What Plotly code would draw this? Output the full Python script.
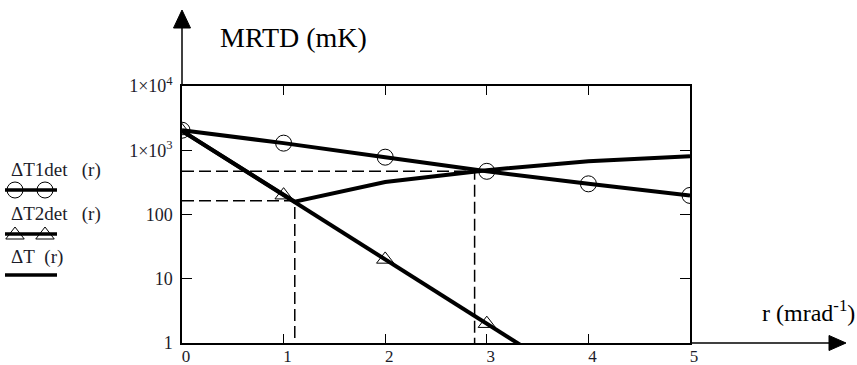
import plotly.graph_objects as go

# ---------------- data ----------------
r = [0, 1, 2, 3, 4, 5]
dT1det = [2050, 1290, 780, 470, 300, 198]          # circles
dT2det = [2000, 200, 20, 2, 0.2, 0.02]              # triangles
r_dT = [0, 1.11, 2, 3, 4, 5]
dT = [2000, 158, 320, 490, 675, 805]               # combined curve
cross_r = [1.11, 2.88]
cross_v = [163, 470]

x_tickvals = [0, 1, 2, 3, 4, 5]
x_ticktext = ["0", "1", "2", "3", "4", "5"]
y_tickvals = [1, 10, 100, 1000, 10000]
y_ticktext = ["1", "10", "100", "1×10<sup>3</sup>", "1×10<sup>4</sup>"]

legend_names = ["ΔT1det\u00a0\u00a0\u00a0(r)", "ΔT2det\u00a0\u00a0\u00a0(r)", "ΔT\u00a0\u00a0(r)"]

# ---------------- layout helpers ----------------
W, H = 857, 365
L, R, T, B = 182, 690, 86, 343


def PX(x):
    return x / W


def PY(y):
    return 1 - y / H


SERIF = "Liberation Serif"
TXT = "#1c1c2a"
LW = 4

fig = go.Figure()

# dashed guide lines
for cr, cv in zip(cross_r, cross_v):
    fig.add_trace(go.Scatter(x=[0, cr, cr], y=[cv, cv, 1], mode="lines",
                             line=dict(color="black", width=1.5, dash="12px,5px"),
                             showlegend=False, hoverinfo="skip"))

fig.add_trace(go.Scatter(x=r, y=dT1det, mode="lines+markers",
                         line=dict(color="black", width=LW),
                         marker=dict(symbol="circle-open", size=16, color="black", line=dict(width=1)),
                         showlegend=False))
fig.add_trace(go.Scatter(x=r, y=dT2det, mode="lines+markers",
                         line=dict(color="black", width=LW),
                         marker=dict(symbol="triangle-up-open", size=15, color="black", line=dict(width=1)),
                         showlegend=False))
fig.add_trace(go.Scatter(x=r_dT, y=dT, mode="lines",
                         line=dict(color="black", width=LW),
                         showlegend=False))

# legend keys on a pixel-coordinate helper axis
leg_line_y = [190, 234, 275]
leg_text_y = [170, 214, 257]
key_x = [5, 57]
mark_x = [15, 45]
symbols = ["circle-open", "triangle-up-open", None]
for i in range(3):
    fig.add_trace(go.Scatter(x=key_x, y=[leg_line_y[i]] * 2, mode="lines",
                             line=dict(color="black", width=3.5),
                             xaxis="x2", yaxis="y2", showlegend=False, hoverinfo="skip"))
    if symbols[i]:
        fig.add_trace(go.Scatter(x=mark_x, y=[leg_line_y[i] + (1 if i == 1 else 0)] * 2, mode="markers",
                                 marker=dict(symbol=symbols[i], size=16, color="black", line=dict(width=1)),
                                 xaxis="x2", yaxis="y2", showlegend=False, hoverinfo="skip",
                                 cliponaxis=False))

annotations = [
    dict(text="MRTD (mK)", x=PX(293), y=PY(37), xref="paper", yref="paper",
         showarrow=False, xanchor="center", yanchor="middle",
         font=dict(family=SERIF, size=28, color="black")),
    dict(text="r (mrad<sup>-1</sup>)", x=PX(857), y=PY(311), xref="paper", yref="paper",
         showarrow=False, xanchor="right", yanchor="middle",
         font=dict(family=SERIF, size=24, color="black")),
]
for i, name in enumerate(legend_names):
    annotations.append(dict(text=name, x=PX(9), y=PY(leg_text_y[i]), xref="paper", yref="paper",
                            showarrow=False, xanchor="left", yanchor="middle",
                            font=dict(family=SERIF, size=19, color=TXT)))

shapes = [
    dict(type="line", xref="paper", yref="paper", x0=PX(L), x1=PX(L), y0=PY(T), y1=PY(26),
         line=dict(color="black", width=1.5)),
    dict(type="line", xref="paper", yref="paper", x0=PX(R), x1=PX(832), y0=PY(B), y1=PY(B),
         line=dict(color="black", width=1.5)),
    dict(type="path", xref="paper", yref="paper",
         path=f"M {PX(182)} {PY(10)} L {PX(173.5)} {PY(28)} L {PX(190.5)} {PY(28)} Z",
         fillcolor="black", line=dict(color="black", width=1)),
    dict(type="path", xref="paper", yref="paper",
         path=f"M {PX(846)} {PY(343)} L {PX(829)} {PY(335.5)} L {PX(829)} {PY(350.5)} Z",
         fillcolor="black", line=dict(color="black", width=1)),
]

fig.update_layout(
    width=W, height=H, autosize=False,
    margin=dict(l=0, r=0, t=0, b=0),
    paper_bgcolor="white", plot_bgcolor="white",
    showlegend=False,
    font=dict(family=SERIF),
    annotations=annotations, shapes=shapes,
    xaxis=dict(domain=[PX(L), PX(R)], range=[0, 5], tickvals=x_tickvals, ticktext=x_ticktext,
               showline=True, linecolor="black", linewidth=1.5, mirror="ticks",
               ticks="inside", ticklen=9, tickwidth=1.3, tickcolor="black",
               showgrid=False, zeroline=False, automargin=False, ticklabelstandoff=-3,
               ticklabelshift=4,
               tickfont=dict(family=SERIF, size=17, color=TXT)),
    yaxis=dict(domain=[PY(B), PY(T)], type="log", range=[0, 4], tickvals=y_tickvals, ticktext=y_ticktext,
               showline=True, linecolor="black", linewidth=1.5, mirror="ticks",
               ticks="inside", ticklen=10, tickwidth=1.3, tickcolor="black",
               showgrid=False, zeroline=False, automargin=False, ticklabelstandoff=4,
               tickfont=dict(family=SERIF, size=18, color=TXT)),
    xaxis2=dict(domain=[0, PX(120)], range=[0, 120], visible=False, fixedrange=True),
    yaxis2=dict(domain=[0, 1], range=[H, 0], visible=False, fixedrange=True, anchor="x2"),
)

fig.write_html("out.html", config={"displayModeBar": False},
               post_script="document.body.style.margin='0px';document.body.style.overflow='hidden';")
